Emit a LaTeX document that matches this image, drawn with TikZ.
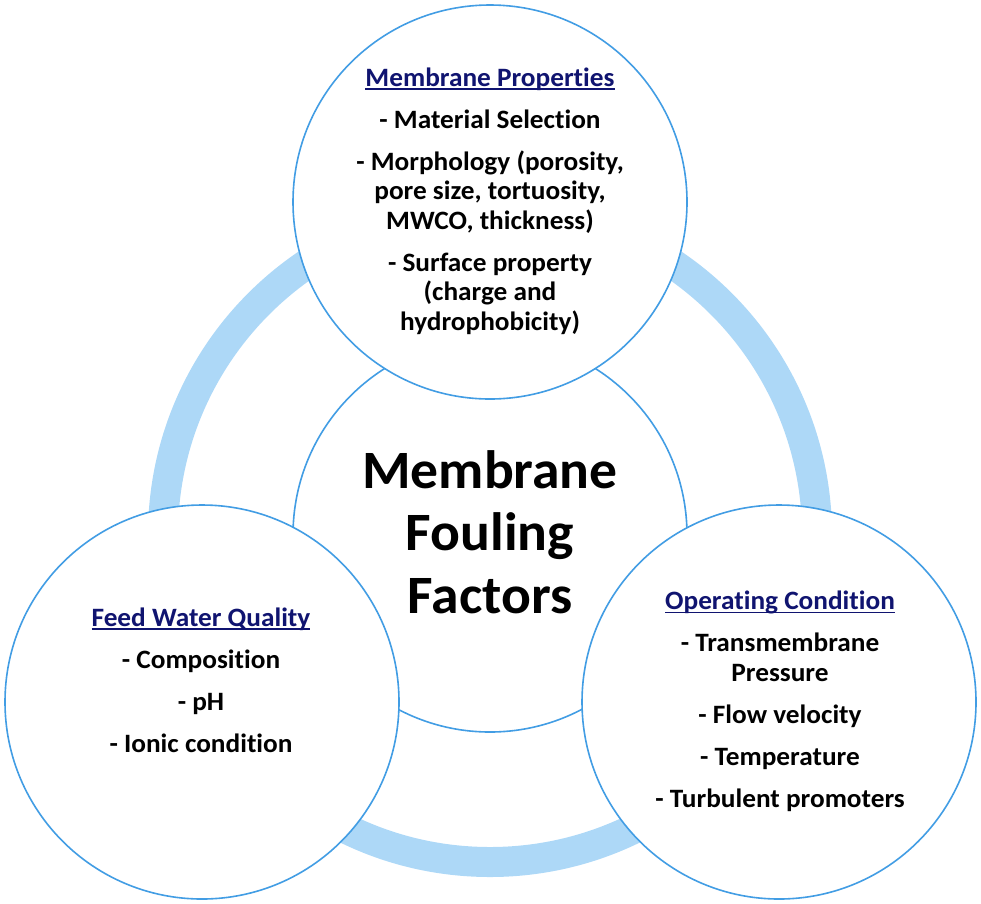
\documentclass[tikz,border=0pt]{standalone}
\usepackage{fontspec}
\setmainfont[Ligatures = NoCommon, FakeStretch = 1.03]{Carlito}
\usepackage{xcolor}
\usetikzlibrary{positioning}
\definecolor{ringblue}{RGB}{173,216,247}
\definecolor{edgeblue}{RGB}{66,157,228}
\definecolor{headnavy}{RGB}{16,20,112}
\newcommand{\heading}[1]{{\color{headnavy}\setbox0\hbox{#1}\rlap{\rule[-3.5pt]{\wd0}{1.5pt}}\box0}}
\newcommand{\gap}{\\[12.5pt]}
\begin{document}
\begin{tikzpicture}[
                x = 1pt, y = -1pt,
                every node/.append style = {font = \fontsize{26.5}{29.5}\selectfont\bfseries, align = center, anchor = base},
                factor/.style = {circle, draw = edgeblue, line width = 1.6pt, fill = white, minimum size = 394pt, inner sep = 0pt, anchor = center},
                ring/.style = {draw = ringblue, line width = 30pt}]
            \useasboundingbox (0,0) rectangle (981,903);
            \coordinate (hub) at (490,535);
            \draw[ring] (hub) circle (327pt);
            \node[factor] (core) at (hub) {};
            \node[factor] (props) at (490,202) {};
            \node[factor] (feed) at (202,702) {};
            \node[factor] (oper) at (779,702) {};
            \node[font = \fontsize{54}{62.5}\selectfont\bfseries] (coretext) at (490,613) {Membrane\\ Fouling\\ Factors};
            \node (propstext) at (490,330) {\heading{Membrane Properties}\gap - Material Selection\gap - Morphology (porosity,\\ pore size, tortuosity,\\ MWCO, thickness)\gap - Surface property\\ (charge and\\ hydrophobicity)};
            \node (feedtext) at (201,752) {\heading{Feed Water Quality}\gap - Composition\gap - pH\gap - Ionic condition};
            \node (opertext) at (780,807) {\heading{Operating Condition}\gap - Transmembrane\\ Pressure\gap - Flow velocity\gap - Temperature\gap - Turbulent promoters};
            \end{tikzpicture}
\end{document}
